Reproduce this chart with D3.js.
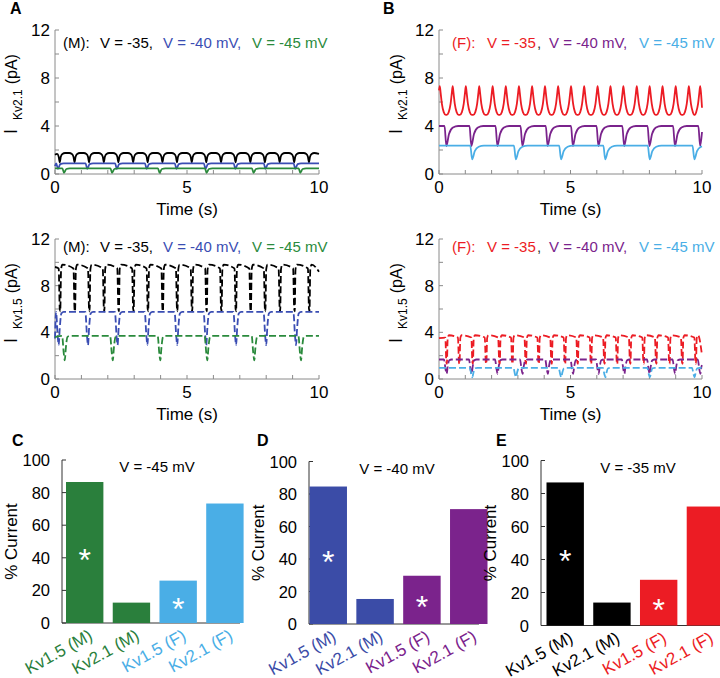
<!DOCTYPE html>
<html>
<head>
<meta charset="utf-8">
<script src="https://cdn.jsdelivr.net/npm/d3@7.9.0/dist/d3.min.js"></script>
<style>
  body { margin: 0; background: #fff; }
  svg { font-family: "Liberation Sans", Arial, sans-serif; }
</style>
</head>
<body>
<svg id="fig" width="720" height="678"></svg>
<script>
// ---- data ----
const timeMinorTicks = [0, 1, 2, 3, 4, 5, 6, 7, 8, 9, 10];
const timeLabelTicks = [0, 5, 10];
const currentMinorTicks = [0, 2, 4, 6, 8, 10, 12];
const currentLabelTicks = [0, 4, 8, 12];
const pctTicks = [0, 20, 40, 60, 80, 100];

// times (s) of each dip in the traces
const eventsM35 = [0.18, 0.74, 1.29, 1.85, 2.40, 2.96, 3.51, 4.07, 4.62, 5.18, 5.73, 6.29, 6.84, 7.40, 7.95, 8.51, 9.06, 9.62];
const eventsM40 = [0.08, 1.19, 2.31, 3.44, 4.57, 5.67, 6.80, 7.94, 9.07];
const eventsM45 = [0.31, 2.13, 3.93, 5.71, 7.49, 9.26];
const eventsF35 = [0.28, 0.76, 1.27, 1.78, 2.29, 2.78, 3.29, 3.78, 4.27, 4.78, 5.26, 5.77, 6.28, 6.76, 7.26, 7.77, 8.25, 8.75, 9.24, 9.75];
const peaksF35 = [0.03, 0.52, 1.02, 1.53, 2.04, 2.54, 3.04, 3.54, 4.03, 4.53, 5.02, 5.52, 6.03, 6.52, 7.01, 7.52, 8.01, 8.50, 9.00, 9.50, 9.93];
const eventsF40 = [0.23, 1.18, 2.17, 3.12, 4.08, 5.04, 6.01, 6.99, 7.95, 8.92, 9.88];
const eventsF45 = [1.21, 2.87, 4.59, 6.27, 7.96, 9.66];

// [plateau, trough] in pA, for -35, -40, -45 mV
const levelsKv21M = [[1.75, 0.98], [0.89, 0.42], [0.47, 0.10]];
const levelsKv15M = [[9.8, 5.8], [5.75, 2.9], [3.7, 1.6]];
const levelsKv21F = [[7.33, 4.92], [4.0, 2.33], [2.36, 1.22]];
const levelsKv15F = [[3.75, 1.3], [1.67, 0.45], [0.96, 0.15]];

// shape of one event: [time offset (s), fraction between trough and plateau]
const shapeArch = [[-0.2, 1], [-0.1, 0.9], [-0.04, 0.6], [0, 0], [0.04, 0.6], [0.1, 0.9], [0.2, 1]];
const shapeCup = [[-0.23, 0], [-0.15, 0.1], [-0.08, 0.38], [-0.03, 0.78], [0, 1], [0.03, 0.78], [0.08, 0.38], [0.15, 0.1], [0.23, 0]];
const shapeSmallDip = [[-0.03, 1], [0.03, 0], [0.12, 0.85], [0.25, 1]];
const shapeSquare = [[-0.04, 0.92], [0, 0.05], [0.02, 0], [0.05, 0.9], [0.1, 1]];
const shapeVDip = [[-0.04, 1], [0.02, 0.3], [0.06, 0], [0.1, 0.5], [0.16, 0.95], [0.25, 1]];
const shapeSlowDip = [[-0.02, 1], [0.05, 0], [0.15, 0.6], [0.3, 0.92], [0.5, 1]];

// percent current bars
const barLabels = ["Kv1.5 (M)", "Kv2.1 (M)", "Kv1.5 (F)", "Kv2.1 (F)"];
const pctAt45 = [86.5, 12.5, 26, 73.3];
const pctAt40 = [84.6, 15.4, 29.7, 70.7];
const pctAt35 = [86.7, 13.9, 27.7, 72.1];
const starBars = [0, 2];

const black = "#000000", blue = "#3a4db3", green = "#2a8a3c";
const red = "#ec1c24", purple = "#7a238c", lightBlue = "#4aaee6";
const greenBar = "#2a7f3c", blueBar = "#3b4ca7", purpleBar = "#7b238c";

const svg = d3.select("#fig");

function buildTrace(events, level, shape, ends) {
  const [hi, lo] = level;
  const v = (f) => lo + f * (hi - lo);
  const pts = [[0, v(ends[0])]];
  events.forEach((t0) =>
    shape.forEach(([dt, f]) => {
      const t = t0 + dt;
      if (t > 0.01 && t < 9.99) pts.push([t, v(f)]);
    })
  );
  pts.push([10, v(ends[1])]);
  pts.sort((a, b) => a[0] - b[0]);
  return pts;
}

// time course panel
function timePanel(cfg) {
  const x = d3.scaleLinear().domain([0, 10]).range(cfg.xr);
  const y = d3.scaleLinear().domain([0, 12]).range(cfg.yr);
  const g = svg.append("g");
  const axisColor = "#8a8a8a";

  g.append("line")
    .attr("x1", cfg.xr[0]).attr("x2", cfg.xr[1])
    .attr("y1", cfg.yr[0]).attr("y2", cfg.yr[0])
    .attr("stroke", axisColor);
  g.append("line")
    .attr("x1", cfg.xr[0]).attr("x2", cfg.xr[0])
    .attr("y1", cfg.yr[0]).attr("y2", cfg.yr[1])
    .attr("stroke", axisColor);

  g.selectAll(".xt").data(timeMinorTicks).join("line")
    .attr("x1", (d) => x(d)).attr("x2", (d) => x(d))
    .attr("y1", cfg.yr[0]).attr("y2", cfg.yr[0] - 4)
    .attr("stroke", axisColor);
  g.selectAll(".yt").data(currentMinorTicks).join("line")
    .attr("x1", cfg.xr[0]).attr("x2", cfg.xr[0] + 4)
    .attr("y1", (d) => y(d)).attr("y2", (d) => y(d))
    .attr("stroke", axisColor);

  g.selectAll(".xl").data(timeLabelTicks).join("text")
    .attr("x", (d) => x(d)).attr("y", cfg.yr[0] + 19)
    .attr("text-anchor", "middle").attr("font-size", 17)
    .text((d) => d);
  g.selectAll(".yl").data(currentLabelTicks).join("text")
    .attr("x", cfg.xr[0] - 5).attr("y", (d) => y(d) + 6)
    .attr("text-anchor", "end").attr("font-size", 17)
    .text((d) => d);

  g.append("text")
    .attr("x", (cfg.xr[0] + cfg.xr[1]) / 2).attr("y", cfg.yr[0] + 41)
    .attr("text-anchor", "middle").attr("font-size", 17)
    .text("Time (s)");

  // y label: I_Kv (pA)
  const yl = g.append("text")
    .attr("transform", `translate(${cfg.yLabel[0]},${cfg.yLabel[1]}) rotate(-90)`);
  yl.append("tspan").attr("font-size", 18).text("I");
  yl.append("tspan").attr("font-size", 12).attr("dy", 5).attr("dx", 9).text(cfg.channel);
  yl.append("tspan").attr("font-size", 16).attr("dy", -5).attr("dx", 5).text("(pA)");

  const line = d3.line()
    .x((d) => x(d[0]))
    .y((d) => y(d[1]))
    .curve(d3.curveMonotoneX);

  cfg.traces.forEach((tr) => {
    g.append("path")
      .attr("d", line(tr.pts))
      .attr("fill", "none")
      .attr("stroke", tr.color)
      .attr("stroke-width", 1.8)
      .attr("stroke-dasharray", tr.dashed ? "7,3" : null);
  });

  cfg.legend.forEach((l) => {
    g.append("text")
      .attr("x", l[1]).attr("y", cfg.legendY)
      .attr("font-size", 15).attr("fill", l[2])
      .text(l[0]);
  });
}

const legendM = [["(M):", 63, black], ["V = -35,", 100, black], ["V = -40 mV,", 163, blue], ["V = -45 mV", 252, green]];
const legendF = [["(F):", 452, red], ["V = -35", 487, red], [",", 537, "#333"], ["V = -40 mV,", 549, purple], ["V = -45 mV", 639, lightBlue]];

timePanel({
  xr: [55, 319], yr: [174, 30], channel: "Kv2.1", yLabel: [17, 134], legendY: 48,
  legend: legendM,
  traces: [
    { pts: buildTrace(eventsM35, levelsKv21M[0], shapeArch, [0.8, 0.9]), color: black },
    { pts: buildTrace(eventsM40, levelsKv21M[1], shapeSmallDip, [0.5, 1]), color: blue },
    { pts: buildTrace(eventsM45, levelsKv21M[2], shapeSmallDip, [1, 1]), color: green },
  ],
});

timePanel({
  xr: [55, 319], yr: [379, 239], channel: "Kv1.5", yLabel: [17, 343], legendY: 252,
  legend: legendM,
  traces: [
    { pts: buildTrace(eventsM35, levelsKv15M[0], shapeSquare, [0.95, 0.85]), color: black, dashed: true },
    { pts: buildTrace(eventsM40, levelsKv15M[1], shapeVDip, [0.2, 1]), color: blue, dashed: true },
    { pts: buildTrace(eventsM45, levelsKv15M[2], shapeVDip, [0.95, 1]), color: green, dashed: true },
  ],
});

timePanel({
  xr: [439, 702], yr: [174, 30], channel: "Kv2.1", yLabel: [402, 134], legendY: 48,
  legend: legendF,
  traces: [
    { pts: buildTrace(peaksF35, levelsKv21F[0], shapeCup, [0.85, 0.25]), color: red },
    { pts: buildTrace(eventsF40, levelsKv21F[1], shapeSlowDip, [1, 0.7]), color: purple },
    { pts: buildTrace(eventsF45, levelsKv21F[2], shapeSlowDip, [1, 0.95]), color: lightBlue },
  ],
});

timePanel({
  xr: [439, 702], yr: [379, 239], channel: "Kv1.5", yLabel: [402, 343], legendY: 252,
  legend: legendF,
  traces: [
    { pts: buildTrace(eventsF35, levelsKv15F[0], shapeSquare, [0.9, 0.3]), color: red, dashed: true },
    { pts: buildTrace(eventsF40, levelsKv15F[1], shapeVDip, [1, 0.6]), color: purple, dashed: true },
    { pts: buildTrace(eventsF45, levelsKv15F[2], shapeVDip, [1, 1]), color: lightBlue, dashed: true },
  ],
});

// bar panels
function barPanel(cfg) {
  const y = d3.scaleLinear().domain([0, 100]).range(cfg.yr);
  const x = d3.scaleBand().domain(barLabels)
    .range([cfg.barStart, cfg.barStart + 4 * cfg.step])
    .paddingInner(0.2).paddingOuter(0);
  const g = svg.append("g");
  const axisColor = "#333";

  g.append("line")
    .attr("x1", cfg.axisX).attr("x2", cfg.axisEnd)
    .attr("y1", cfg.yr[0]).attr("y2", cfg.yr[0])
    .attr("stroke", axisColor);
  g.append("line")
    .attr("x1", cfg.axisX).attr("x2", cfg.axisX)
    .attr("y1", cfg.yr[0]).attr("y2", cfg.yr[1])
    .attr("stroke", axisColor);
  g.selectAll(".yt").data(pctTicks).join("line")
    .attr("x1", cfg.axisX).attr("x2", cfg.axisX + 4)
    .attr("y1", (d) => y(d)).attr("y2", (d) => y(d))
    .attr("stroke", axisColor);
  g.selectAll(".yl").data(pctTicks).join("text")
    .attr("x", cfg.axisX - 12).attr("y", (d) => y(d) + 6)
    .attr("text-anchor", "end").attr("font-size", 16.5)
    .text((d) => d);

  g.append("text")
    .attr("transform", `translate(${cfg.axisX - 45},${(cfg.yr[0] + cfg.yr[1]) / 2}) rotate(-90)`)
    .attr("text-anchor", "middle").attr("font-size", 17)
    .text("% Current");

  g.selectAll("rect").data(cfg.values).join("rect")
    .attr("x", (d, i) => x(barLabels[i]))
    .attr("width", x.bandwidth())
    .attr("y", (d) => y(d))
    .attr("height", (d) => y(0) - y(d))
    .attr("fill", (d, i) => cfg.colors[i]);

  g.selectAll(".star").data(starBars).join("text")
    .attr("x", (i) => x(barLabels[i]) + x.bandwidth() / 2)
    .attr("y", (i) => y(cfg.values[i] / 2) + 18)
    .attr("text-anchor", "middle").attr("font-size", 32)
    .attr("fill", "#fff")
    .text("*");

  g.selectAll(".xl").data(barLabels).join("text")
    .attr("transform", (d) => `translate(${x(d) + x.bandwidth() / 2 + 9},${cfg.yr[0] + 16}) rotate(-29)`)
    .attr("text-anchor", "end").attr("font-size", 17)
    .attr("fill", (d, i) => cfg.colors[i])
    .text((d) => d);

  g.append("text")
    .attr("x", cfg.titleX).attr("y", cfg.yr[1] + 12)
    .attr("text-anchor", "middle").attr("font-size", 15)
    .text(cfg.title);
}

barPanel({
  axisX: 62, axisEnd: 240, barStart: 66, step: 44.4, yr: [623, 460],
  values: pctAt45, colors: [greenBar, greenBar, lightBlue, lightBlue],
  title: "V = -45 mV", titleX: 157,
});
barPanel({
  axisX: 309, axisEnd: 479, barStart: 309.5, step: 44.5, yr: [624, 461.5],
  values: pctAt40, colors: [blueBar, blueBar, purpleBar, purpleBar],
  title: "V = -40 mV", titleX: 397,
});
barPanel({
  axisX: 541, axisEnd: 720, barStart: 546.5, step: 44.4, yr: [625.5, 460.5],
  values: pctAt35, colors: [black, black, red, red],
  title: "V = -35 mV", titleX: 638,
});

// panel letters
const panelLetters = [["A", 10, 14], ["B", 383, 14], ["C", 12, 446], ["D", 257, 446], ["E", 496, 446]];
svg.selectAll(".letter").data(panelLetters).join("text")
  .attr("x", (d) => d[1]).attr("y", (d) => d[2])
  .attr("font-size", 16).attr("font-weight", "bold")
  .text((d) => d[0]);
</script>
</body>
</html>
